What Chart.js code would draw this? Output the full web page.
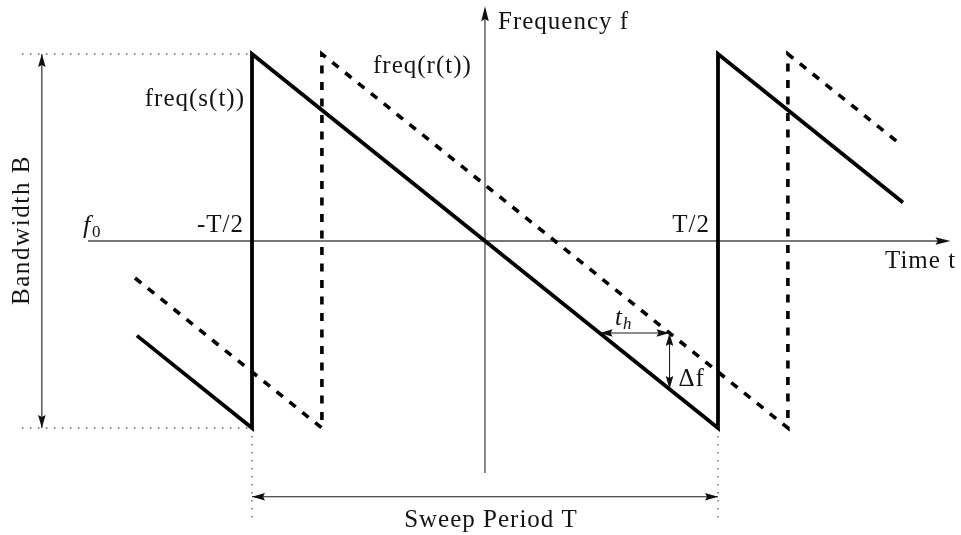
<!DOCTYPE html>
<html>
<head>
<meta charset="utf-8">
<script src="https://cdn.jsdelivr.net/npm/chart.js@4"></script>
<style>
  html, body { margin: 0; padding: 0; background: #fff; }
  canvas { display: block; }
</style>
</head>
<body>
<canvas id="chirp" width="961" height="535"></canvas>
<script>
// time in units of the sweep period T, frequency in units of the bandwidth B (f0 = 0)
const sentT = [-0.747, -0.5, -0.5, 0.5, 0.5, 0.897];
const sentF = [-0.253, -0.5, 0.5, -0.5, 0.5, 0.103];
const echoT = [-0.751, -0.35, -0.35, 0.65, 0.65, 0.893];
const echoF = [-0.099, -0.5, 0.5, -0.5, 0.5, 0.257];

const tickT = [-0.5, 0.5];
const tickLabels = ['-T/2', 'T/2'];
const seriesLabels = ['freq(s(t))', 'freq(r(t))'];

// where the t_h / Δf markers sit on the received chirp
const markerF = -0.246;

const toPoints = (ts, fs) => ts.map((t, i) => ({ x: t, y: fs[i] }));

const FONT = '"Liberation Serif", "DejaVu Serif", serif';
const SIZE = 25;

function arrowHead(ctx, x, y, angle, len, half) {
    ctx.save();
    ctx.translate(x, y);
    ctx.rotate(angle);
    ctx.beginPath();
    ctx.moveTo(0, 0);
    ctx.lineTo(-len, -half);
    ctx.lineTo(-len * 0.85, 0);
    ctx.lineTo(-len, half);
    ctx.closePath();
    ctx.fill();
    ctx.restore();
}

function line(ctx, x1, y1, x2, y2) {
    ctx.beginPath();
    ctx.moveTo(x1, y1);
    ctx.lineTo(x2, y2);
    ctx.stroke();
}

function doubleArrow(ctx, x1, y1, x2, y2) {
    const a = Math.atan2(y2 - y1, x2 - x1);
    line(ctx, x1, y1, x2, y2);
    arrowHead(ctx, x2, y2, a, 13, 3.8);
    arrowHead(ctx, x1, y1, a + Math.PI, 13, 3.8);
}

function text(ctx, str, x, y, size, align, italic) {
    ctx.font = (italic ? 'italic ' : '') + size + 'px ' + FONT;
    ctx.textAlign = align || 'left';
    ctx.textBaseline = 'alphabetic';
    ctx.fillText(str, x, y);
}

const axesPlugin = {
    id: 'axes',
    beforeDatasetsDraw(chart) {
        const { ctx, scales: { x, y } } = chart;
        const X = v => x.getPixelForValue(v);
        const Y = v => y.getPixelForValue(v);
        ctx.save();
        ctx.strokeStyle = '#4a4a4a';
        ctx.fillStyle = '#111';
        ctx.lineWidth = 1.3;

        // time axis
        line(ctx, X(-0.852), Y(0), X(0.985), Y(0));
        arrowHead(ctx, X(0.999), Y(0), 0, 15, 3.8);
        // frequency axis
        line(ctx, X(0), Y(-0.62), X(0), Y(0.6));
        arrowHead(ctx, X(0), Y(0.628), -Math.PI / 2, 15, 3.8);

        // dotted guides for the band edges and the period limits
        ctx.strokeStyle = '#666';
        ctx.lineWidth = 1.4;
        ctx.setLineDash([1.6, 6.4]);
        line(ctx, X(-0.994), Y(0.5), X(-0.5), Y(0.5));
        line(ctx, X(-0.994), Y(-0.5), X(-0.5), Y(-0.5));
        tickT.forEach(t => line(ctx, X(t), Y(-0.5), X(t), Y(-0.745)));
        ctx.restore();
    },
    afterDatasetsDraw(chart) {
        const { ctx, scales: { x, y } } = chart;
        const X = v => x.getPixelForValue(v);
        const Y = v => y.getPixelForValue(v);
        ctx.save();
        ctx.strokeStyle = '#1a1a1a';
        ctx.fillStyle = '#111';
        ctx.lineWidth = 1.1;

        // bandwidth and sweep period
        doubleArrow(ctx, X(-0.951), Y(0.5), X(-0.951), Y(-0.5));
        doubleArrow(ctx, X(tickT[0]), Y(-0.684), X(tickT[1]), Y(-0.684));

        // delay t_h and beat frequency Δf
        const delay = echoT[3] - sentT[3];
        const tSent = -markerF;
        const tEcho = tSent + delay;
        doubleArrow(ctx, X(tSent), Y(markerF), X(tEcho), Y(markerF));
        doubleArrow(ctx, X(tEcho), Y(markerF), X(tEcho), Y(-tEcho));

        // labels
        ctx.fillStyle = '#141414';
        ctx.letterSpacing = '1px';
        text(ctx, 'Frequency f', X(0) + 13, 29, SIZE);
        text(ctx, 'Time t', 885, Y(0) + 27, SIZE);
        text(ctx, seriesLabels[0], X(-0.5) - 7, 106, SIZE, 'right');
        text(ctx, seriesLabels[1], 373, 73, SIZE);
        tickLabels.forEach((s, i) => text(ctx, s, X(tickT[i]) - 8, Y(0) - 9, SIZE, 'right'));
        text(ctx, 'Sweep Period T', X(0) + 6, 527, SIZE, 'center');
        text(ctx, 'Δf', X(tEcho) + 9, 386, SIZE);

        ctx.letterSpacing = '0px';
        text(ctx, 'f', 83, Y(0) - 8, 26, 'left', true);
        text(ctx, '0', 92, Y(0) - 4, 17);
        text(ctx, 't', 615, Y(markerF) - 8, 25, 'left', true);
        text(ctx, 'h', 623, Y(markerF) - 4, 17, 'left', true);

        ctx.save();
        ctx.letterSpacing = '1.6px';
        ctx.translate(29, 230);
        ctx.rotate(-Math.PI / 2);
        text(ctx, 'Bandwidth B', 0, 0, SIZE, 'center');
        ctx.restore();

        ctx.restore();
    }
};

new Chart(document.getElementById('chirp'), {
    type: 'scatter',
    data: {
        datasets: [{
            label: seriesLabels[0],
            data: toPoints(sentT, sentF),
            showLine: true,
            borderColor: '#000',
            borderWidth: 3.8,
            borderJoinStyle: 'miter',
            borderCapStyle: 'butt',
            pointRadius: 0,
            tension: 0
        }, {
            label: seriesLabels[1],
            data: toPoints(echoT, echoF),
            showLine: true,
            borderColor: '#000',
            borderWidth: 3.6,
            borderDash: [8, 8.5],
            borderJoinStyle: 'miter',
            borderCapStyle: 'butt',
            pointRadius: 0,
            tension: 0
        }]
    },
    options: {
        responsive: false,
        animation: false,
        layout: { padding: 0 },
        plugins: {
            legend: { display: false },
            tooltip: { enabled: false }
        },
        scales: {
            x: { type: 'linear', min: -1.0408, max: 1.0215, display: false },
            y: { type: 'linear', min: -0.7861, max: 0.6444, display: false }
        }
    },
    plugins: [axesPlugin]
});
</script>
</body>
</html>
